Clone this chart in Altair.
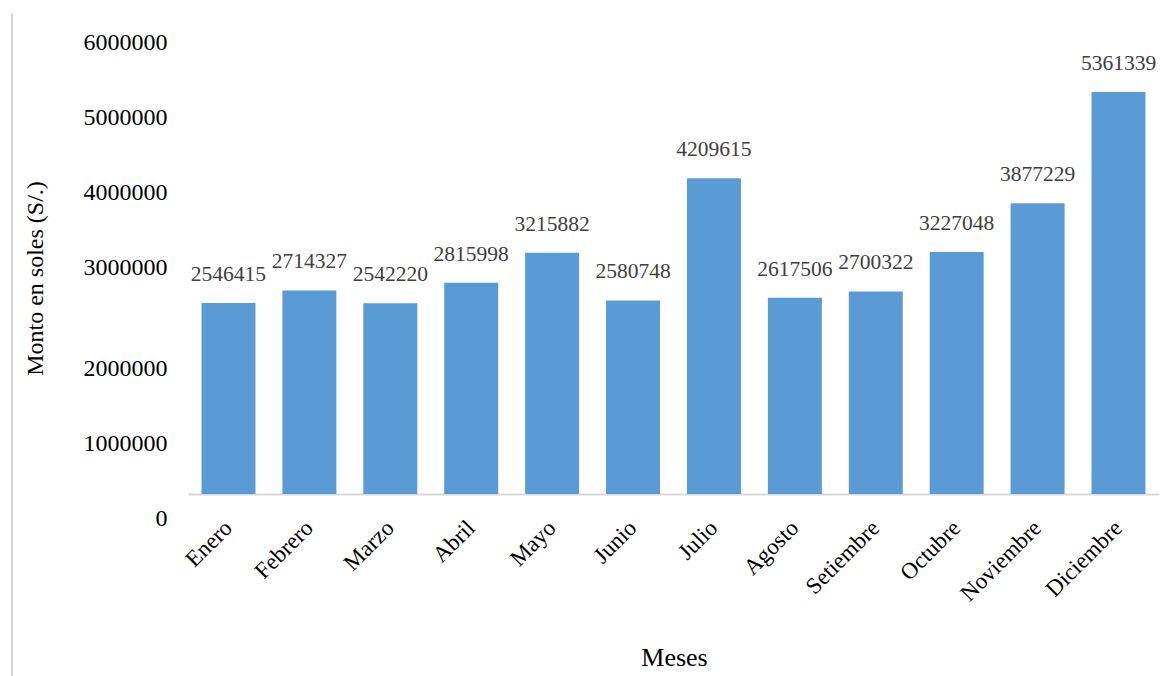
import altair as alt
import pandas as pd

meses = ["Enero", "Febrero", "Marzo", "Abril", "Mayo", "Junio", "Julio",
         "Agosto", "Setiembre", "Octubre", "Noviembre", "Diciembre"]
montos = [2546415, 2714327, 2542220, 2815998, 3215882, 2580748, 4209615,
          2617506, 2700322, 3227048, 3877229, 5361339]
y_ticks = [0, 1000000, 2000000, 3000000, 4000000, 5000000, 6000000]

df = pd.DataFrame({"mes": meses, "monto": montos})
FONT = "Liberation Serif"

x_enc = alt.X(
    "mes:N", sort=meses,
    scale=alt.Scale(paddingInner=0.333, paddingOuter=0.167),
    axis=alt.Axis(
        title="Meses", labelAngle=-45, labelAlign="right", labelBaseline="middle",
        labelPadding=30, ticks=False, tickSize=0, domainColor="#d9d9d9",
        domainWidth=2, labelFont=FONT, labelFontSize=23, labelColor="black",
        titleFont=FONT, titleFontSize=26, titleFontWeight="normal",
        titleColor="black", titleX=486, titleY=163, titleBaseline="middle",
        titleAlign="center", grid=False, labelOverlap=False,
    ),
)
y_enc = alt.Y(
    "monto:Q",
    scale=alt.Scale(domain=[0, 6000000], nice=False, zero=True),
    axis=alt.Axis(
        values=y_ticks, format="d", title="Monto en soles (S/.)", domain=False,
        ticks=False, tickSize=0, grid=False, labelPadding=21, labelFont=FONT,
        labelFontSize=24, labelColor="black", labelOverlap=False,
        labelOffset={"condition": {"test": "datum.value <= 2000000", "value": 24}, "value": -2},
        titleFont=FONT, titleFontSize=24, titleFontWeight="normal",
        titleColor="black", titleX=-153, titleY=234, titleAngle=-90,
        titleBaseline="middle", titleAlign="center",
    ),
)

base = alt.Chart(df)
bars = base.mark_bar(color="#5B9BD5").encode(x=x_enc, y=y_enc)
labels = base.mark_text(
    font=FONT, fontSize=21.5, color="#404040", baseline="alphabetic", dy=-22
).encode(x=x_enc, y=y_enc, text=alt.Text("monto:Q", format="d"))

edge = alt.Chart(pd.DataFrame({"a": [0]})).mark_rule(
    color="#d4d4d4", strokeWidth=2
).encode(x=alt.value(-176), y=alt.value(-30), y2=alt.value(640))

chart = alt.layer(bars, labels, edge).properties(
    width=971, height=450,
    padding={"left": 188, "top": 44, "right": 15, "bottom": 182},
    autosize=alt.AutoSizeParams(type="none"),
).configure_view(stroke=None)

chart.save("out.html", embed_options={"renderer": "svg", "actions": False})
